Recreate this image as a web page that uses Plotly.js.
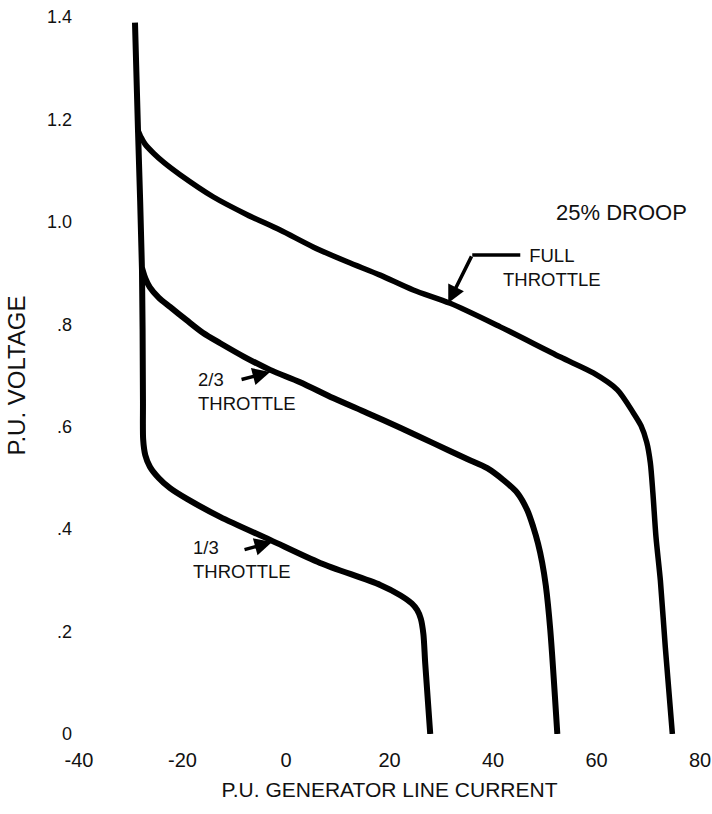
<!DOCTYPE html>
<html>
<head>
<meta charset="utf-8">
<script src="https://cdn.plot.ly/plotly-3.0.1.min.js"></script>
<style>
  html, body { margin: 0; padding: 0; background: #ffffff; }
  #chart { width: 712px; height: 814px; }
</style>
</head>
<body>
<div id="chart"></div>
<script>
// Shared vertical branch + 1/3 throttle curve (P.U. current, P.U. voltage)
const oneThirdX = [-29.18, -28.60, -27.83, -27.64, -27.60, -27.20, -26.30, -24.60, -22.40, -19.13, -12.74, -3.07, 6.59, 18.20, 22.07, 24.30, 25.35, 26.05, 26.55, 26.90, 27.87];
const oneThirdY = [1.389, 1.179, 0.906, 0.652, 0.575, 0.545, 0.522, 0.500, 0.480, 0.459, 0.424, 0.379, 0.334, 0.291, 0.271, 0.255, 0.242, 0.225, 0.195, 0.138, 0.0];

// 2/3 throttle curve
const twoThirdX = [-27.83, -27.20, -26.30, -24.60, -22.40, -19.20, -16.00, -12.70, -8.00, -3.07, 2.73, 9.11, 15.68, 22.07, 28.45, 35.02, 38.89, 41.99, 44.69, 46.63, 47.79, 48.70, 49.50, 50.20, 51.07, 52.43];
const twoThirdY = [0.910, 0.890, 0.872, 0.852, 0.834, 0.808, 0.783, 0.763, 0.736, 0.711, 0.687, 0.656, 0.627, 0.598, 0.568, 0.537, 0.519, 0.496, 0.471, 0.437, 0.404, 0.372, 0.335, 0.290, 0.203, 0.0];

// Full throttle curve
const fullX = [-28.60, -28.00, -27.25, -25.50, -23.50, -20.48, -14.10, -7.52, -1.14, 5.24, 11.82, 18.20, 24.58, 31.73, 41.40, 53.01, 59.39, 64.03, 67.12, 68.60, 69.70, 70.40, 70.90, 71.50, 72.34, 73.30, 74.66];
const fullY = [1.179, 1.165, 1.152, 1.133, 1.115, 1.092, 1.049, 1.014, 0.984, 0.951, 0.922, 0.896, 0.867, 0.841, 0.795, 0.736, 0.705, 0.672, 0.627, 0.602, 0.570, 0.530, 0.470, 0.384, 0.300, 0.169, 0.0];

// Axis ticks
const xTickVals = [-40, -20, 0, 20, 40, 60, 80];
const xTickText = ["-40", "-20", "0", "20", "40", "60", "80"];
const yTickVals = [0, 0.2, 0.4, 0.6, 0.8, 1.0, 1.2, 1.4];
const yTickText = ["0", ".2", ".4", ".6", ".8", "1.0", "1.2", "1.4"];

// Labels
const droopLabel = "25% DROOP";
const fullLabel = "FULL<br>THROTTLE";
const twoThirdLabel = "2/3<br>THROTTLE";
const oneThirdLabel = "1/3<br>THROTTLE";

const FONT = "Liberation Sans, Arial, Helvetica, sans-serif";
const lineStyle = {color: "#000000", width: 6, shape: "spline", smoothing: 0.8};

const traces = [
  {x: oneThirdX, y: oneThirdY, mode: "lines", name: "1/3 THROTTLE", line: lineStyle, hoverinfo: "skip"},
  {x: twoThirdX, y: twoThirdY, mode: "lines", name: "2/3 THROTTLE", line: lineStyle, hoverinfo: "skip"},
  {x: fullX, y: fullY, mode: "lines", name: "FULL THROTTLE", line: Object.assign({}, lineStyle, {width: 5.5}), hoverinfo: "skip"}
];

const arrowStyle = {showarrow: true, arrowhead: 2, arrowsize: 1, arrowwidth: 3.5, arrowcolor: "#000000", axref: "x", ayref: "y", text: "", standoff: 0, startstandoff: 0};

const layout = {
  width: 712,
  height: 814,
  margin: {l: 79, r: 12, t: 17, b: 80},
  paper_bgcolor: "#ffffff",
  plot_bgcolor: "#ffffff",
  showlegend: false,
  font: {family: FONT, color: "#111111"},
  xaxis: {
    range: [-40, 80],
    tickvals: xTickVals,
    ticktext: xTickText,
    showgrid: false,
    zeroline: false,
    showline: false,
    ticks: "",
    ticklabelstandoff: 12,
    tickfont: {family: FONT, size: 20, color: "#111111"},
    title: {text: "P.U. GENERATOR LINE CURRENT", font: {family: FONT, size: 21, color: "#111111"}, standoff: 12},
    fixedrange: true
  },
  yaxis: {
    range: [0, 1.4],
    tickvals: yTickVals,
    ticktext: yTickText,
    showgrid: false,
    zeroline: false,
    showline: false,
    ticks: "",
    ticklabelstandoff: 6,
    tickfont: {family: FONT, size: 18, color: "#111111"},
    title: {text: "P.U. VOLTAGE", font: {family: FONT, size: 24, color: "#111111"}, standoff: 14},
    fixedrange: true
  },
  shapes: [
    {type: "line", xref: "x", yref: "y", x0: 45.27, y0: 0.9355, x1: 35.99, y1: 0.9355, line: {color: "#000000", width: 3.5}}
  ],
  annotations: [
    {x: 64.8, y: 1.019, xref: "x", yref: "y", text: droopLabel, showarrow: false, xanchor: "center", yanchor: "middle", font: {family: FONT, size: 22, color: "#111111"}},
    {x: 51.46, y: 0.910, xref: "x", yref: "y", text: fullLabel, showarrow: false, xanchor: "center", yanchor: "middle", align: "center", font: {family: FONT, size: 18.5, color: "#111111"}},
    {x: -17.4, y: 0.668, xref: "x", yref: "y", text: twoThirdLabel, showarrow: false, xanchor: "left", yanchor: "middle", align: "left", font: {family: FONT, size: 18.5, color: "#111111"}},
    {x: -18.3, y: 0.3415, xref: "x", yref: "y", text: oneThirdLabel, showarrow: false, xanchor: "left", yanchor: "middle", align: "left", font: {family: FONT, size: 18.5, color: "#111111"}},
    Object.assign({x: 31.35, y: 0.8415, ax: 35.99, ay: 0.9355, xref: "x", yref: "y"}, arrowStyle),
    Object.assign({x: -3.07, y: 0.7069, ax: -8.88, ay: 0.6913, xref: "x", yref: "y"}, arrowStyle),
    Object.assign({x: -2.69, y: 0.3747, ax: -8.30, ay: 0.3591, xref: "x", yref: "y"}, arrowStyle)
  ]
};

Plotly.newPlot("chart", traces, layout, {staticPlot: true, displayModeBar: false});
</script>
</body>
</html>
